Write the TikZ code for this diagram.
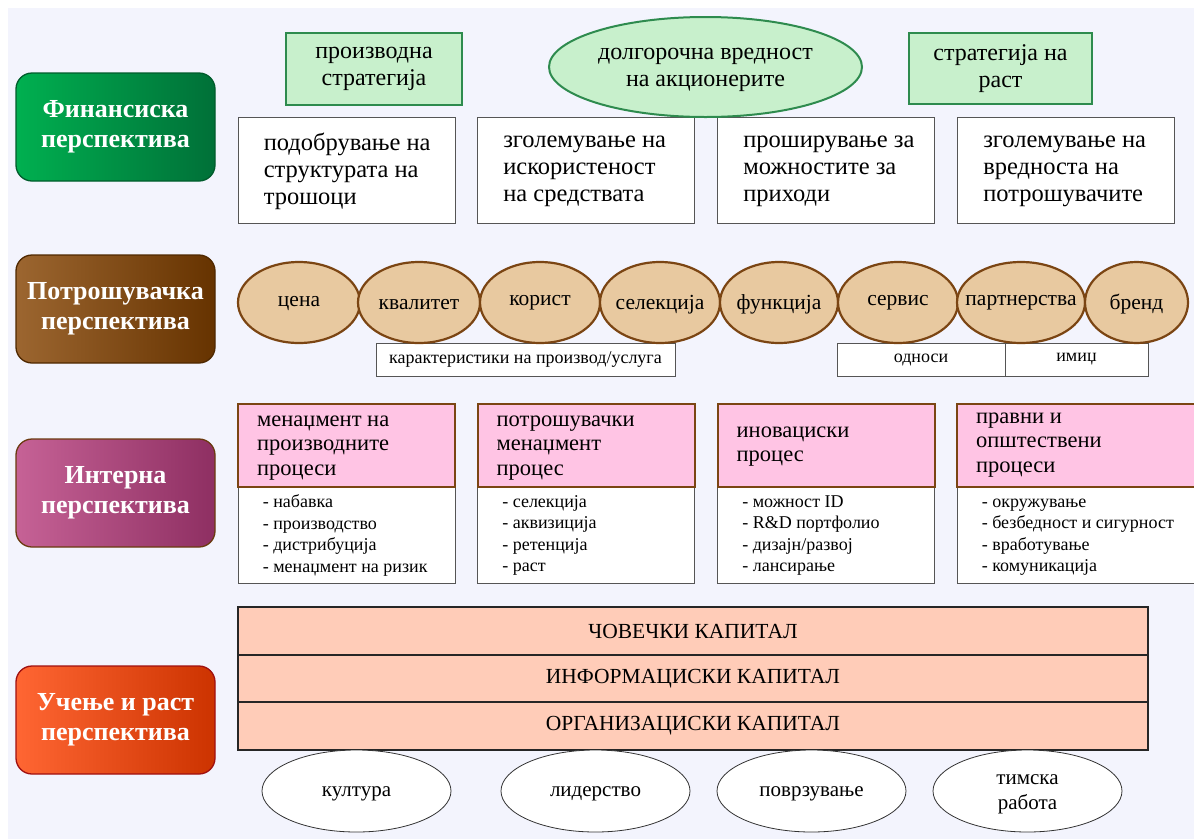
\documentclass[tikz,border=0pt]{standalone}
\usepackage{fontspec}
\setmainfont{Liberation Serif}
\usetikzlibrary{shapes.geometric}
\definecolor{bgc}{HTML}{F3F4FD}
\definecolor{grfill}{HTML}{C8F0CC}
\definecolor{grborder}{HTML}{2E8B4E}
\definecolor{tanfill}{HTML}{E8C9A0}
\definecolor{tanborder}{HTML}{7B4513}
\definecolor{pinkfill}{HTML}{FFC4E4}
\definecolor{peach}{HTML}{FFCCB8}
\definecolor{finA}{HTML}{00B050}
\definecolor{finB}{HTML}{007038}
\definecolor{finD}{HTML}{005C2C}
\definecolor{conA}{HTML}{9C6630}
\definecolor{conB}{HTML}{663300}
\definecolor{conD}{HTML}{4F2800}
\definecolor{intA}{HTML}{C66296}
\definecolor{intB}{HTML}{8E2F62}
\definecolor{intD}{HTML}{6B3A10}
\definecolor{lrnA}{HTML}{FF6633}
\definecolor{lrnB}{HTML}{CC3300}
\definecolor{lrnD}{HTML}{A01010}
\definecolor{boxline}{HTML}{555555}
\begin{document}
\begin{tikzpicture}[x=1pt,y=-1pt,
  persp/.style={rounded corners=16pt, minimum width=199pt, minimum height=108pt,
    line width=1.3pt, text=white, font=\bfseries\fontsize{26}{30}\selectfont,
    align=center, inner sep=0pt},
  greenbox/.style={draw=grborder, fill=grfill, line width=2pt, inner sep=0pt},
  gtext/.style={font=\fontsize{24}{27}\selectfont, align=center, inner sep=0pt},
  finbox/.style={draw=boxline, fill=white, line width=0.8pt, minimum width=217pt,
    minimum height=106pt, inner sep=0pt},
  fintext/.style={font=\fontsize{24.5}{27}\selectfont, align=left, inner sep=0pt, anchor=west},
  tanel/.style={ellipse, draw=tanborder, fill=tanfill, line width=2.2pt,
    minimum height=81pt, inner sep=0pt},
  tantext/.style={font=\fontsize{21.5}{24}\selectfont, inner sep=0pt, anchor=base},
  labbox/.style={draw=boxline, fill=white, line width=0.8pt, minimum height=33pt,
    inner sep=0pt, font=\fontsize{18}{20}\selectfont},
  pinkhead/.style={draw=tanborder, fill=pinkfill, line width=2pt, minimum width=217pt,
    minimum height=83pt, inner sep=0pt},
  listbox/.style={draw=boxline, fill=white, line width=0.8pt, minimum width=217pt,
    minimum height=96pt, inner sep=0pt},
  headtext/.style={font=\fontsize{22.5}{24.5}\selectfont, align=left, inner sep=0pt, anchor=west},
  listtext/.style={font=\fontsize{18}{21.5}\selectfont, align=left, inner sep=0pt, anchor=west},
  capbox/.style={draw=black!85, fill=peach, line width=1.6pt, minimum width=910pt,
    minimum height=47.5pt, inner sep=0pt, font=\fontsize{21.5}{24}\selectfont},
  wel/.style={ellipse, draw=black!80, fill=white, line width=0.8pt, minimum width=189pt,
    minimum height=82pt, inner sep=0pt},
  weltext/.style={font=\fontsize{21}{25}\selectfont, align=center, inner sep=0pt}
]
\useasboundingbox (0,0) rectangle (1194,839);
\fill[white] (0,0) rectangle (1194,839);
\fill[bgc] (8,8) rectangle (1194,839);
\clip (0,0) rectangle (1194,839);

% perspective boxes
\node[persp, draw=finD, left color=finA, right color=finB] (pf) at (115.5,127) {Финансиска\\перспектива};
\node[persp, draw=conD, left color=conA, right color=conB] (pc) at (115.5,309) {Потрошувачка\\перспектива};
\node[persp, draw=intD, left color=intA, right color=intB] (pi) at (115.5,493) {Интерна\\перспектива};
\node[persp, draw=lrnD, left color=lrnA, right color=lrnB] (pl) at (115.5,720) {Учење и раст\\перспектива};

% financial row
\node[greenbox, minimum width=176pt, minimum height=72pt] (g1) at (374,69) {};
\node[gtext] (g1t) at (g1) {производна\\стратегија};
\node[greenbox, minimum width=183pt, minimum height=71pt] (g3) at (1000.5,68.5) {};
\node[gtext] (g3t) at (g3) {стратегија на\\раст};

\node[finbox] (f1) at (346.5,170) {};
\node[finbox] (f2) at (586,170) {};
\node[finbox] (f3) at (826,170) {};
\node[finbox] (f4) at (1066,170) {};
\node[fintext] (f1t) at ([xshift=26pt,yshift=-1.5pt]f1.west) {подобрување на\\структурата на\\трошоци};
\node[fintext] (f2t) at ([xshift=26pt,yshift=-1.5pt]f2.west) {зголемување на\\искористеност\\на средствата};
\node[fintext] (f3t) at ([xshift=26pt,yshift=-1.5pt]f3.west) {проширување за\\можностите за\\приходи};
\node[fintext] (f4t) at ([xshift=26pt,yshift=-1.5pt]f4.west) {зголемување на\\вредноста на\\потрошувачите};

\node[ellipse, draw=grborder, fill=grfill, line width=2pt, minimum width=313pt,
  minimum height=100pt, inner sep=0pt] (g2) at (705.5,67) {};
\node[gtext] (g2t) at ([yshift=-2.5pt]g2.center) {долгорочна вредност\\на акционерите};

% consumer row
\node[labbox, minimum width=299pt] (lb1) at (525.5,359.5) {карактеристики на производ/услуга};
\node[labbox, minimum width=168pt] (lb2) at (921,359.5) {односи};
\node[labbox, minimum width=143pt] (lb3) at (1076.5,359.5) {имиџ};

\node[tanel, minimum width=122pt] (c1) at (299,302.5) {};
\node[tanel, minimum width=122pt] (c2) at (419,302.5) {};
\node[tanel, minimum width=120pt] (c3) at (540,302.5) {};
\node[tanel, minimum width=120pt] (c4) at (660,302.5) {};
\node[tanel, minimum width=118pt] (c5) at (779,302.5) {};
\node[tanel, minimum width=120pt] (c6) at (898,302.5) {};
\node[tanel, minimum width=128pt] (c7) at (1021,302.5) {};
\node[tanel, minimum width=103pt] (c8) at (1136.5,302.5) {};
\node[tantext] (c1t) at (299,306) {цена};
\node[tantext] (c2t) at (419,309) {квалитет};
\node[tantext] (c3t) at (540,305) {корист};
\node[tantext] (c4t) at (660,309) {селекција};
\node[tantext] (c5t) at (779,309) {функција};
\node[tantext] (c6t) at (898,305) {сервис};
\node[tantext] (c7t) at (1021,305) {партнерства};
\node[tantext] (c8t) at (1136.5,309) {бренд};

% internal row
\node[listbox] (l1) at (346.5,535) {};
\node[listbox] (l2) at (586,535) {};
\node[listbox] (l3) at (826,535) {};
\node[listbox, minimum width=245pt] (l4) at (1079.5,535) {};
\node[pinkhead] (h1) at (346.5,445.5) {};
\node[pinkhead] (h2) at (586,445.5) {};
\node[pinkhead] (h3) at (826,445.5) {};
\node[pinkhead, minimum width=245pt] (h4) at (1079.5,445.5) {};
\node[headtext] (h1t) at ([xshift=20pt,yshift=-2.5pt]h1.west) {менаџмент на\\производните\\процеси};
\node[headtext] (h2t) at ([xshift=20pt,yshift=-2.5pt]h2.west) {потрошувачки\\менаџмент\\процес};
\node[headtext] (h3t) at ([xshift=20pt,yshift=-1pt]h3.west) {иновациски\\процес};
\node[headtext] (h4t) at ([xshift=20pt,yshift=0.5pt]h4.west) {правни и\\општествени\\процеси};
\node[listtext] (l1t) at ([xshift=25pt,yshift=-0.5pt]l1.west) {- набавка\\- производство\\- дистрибуција\\- менаџмент на ризик};
\node[listtext] (l2t) at ([xshift=25pt,yshift=-0.5pt]l2.west) {- селекција\\- аквизиција\\- ретенција\\- раст};
\node[listtext] (l3t) at ([xshift=25pt,yshift=-0.5pt]l3.west) {- можност ID\\- R\&D портфолио\\- дизајн/развој\\- лансирање};
\node[listtext] (l4t) at ([xshift=25pt,yshift=-2pt]l4.west) {- окружување\\- безбедност и сигурност\\- вработување\\- комуникација};

% learning row
\node[capbox] (k1) at (693,631) {ЧОВЕЧКИ КАПИТАЛ};
\node[capbox] (k2) at (693,678.5) {ИНФОРМАЦИСКИ КАПИТАЛ};
\node[capbox] (k3) at (693,726) {ОРГАНИЗАЦИСКИ КАПИТАЛ};

\node[wel] (b1) at (356.5,791) {};
\node[wel] (b2) at (595.5,791) {};
\node[wel] (b3) at (811.5,791) {};
\node[wel] (b4) at (1027.5,791) {};
\node[weltext] (b1t) at ([yshift=-3pt]b1.center) {култура};
\node[weltext] (b2t) at ([yshift=-3pt]b2.center) {лидерство};
\node[weltext] (b3t) at ([yshift=-3pt]b3.center) {поврзување};
\node[weltext] (b4t) at ([yshift=-3pt]b4.center) {тимска\\работа};
\end{tikzpicture}
\end{document}
